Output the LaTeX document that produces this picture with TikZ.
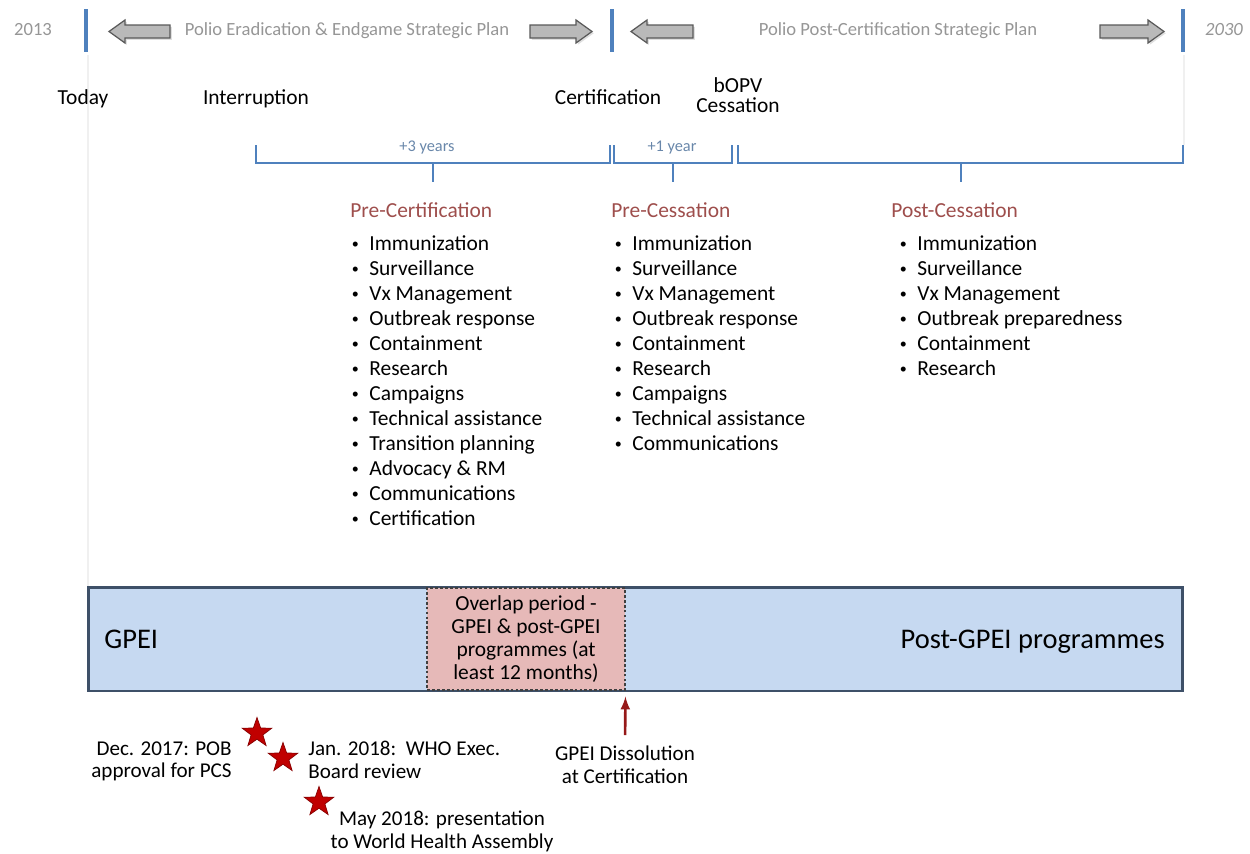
\documentclass[tikz,border=0pt]{standalone}
\usepackage{fontspec}
\setmainfont{Carlito}
\usetikzlibrary{positioning,shapes,shadows,arrows}

\definecolor{barblue}{RGB}{79,129,189}
\definecolor{plangray}{RGB}{150,150,150}
\definecolor{yeargray}{RGB}{110,110,110}
\definecolor{spanblue}{RGB}{105,135,170}
\definecolor{headred}{RGB}{158,78,76}
\definecolor{gpeiblue}{RGB}{198,217,241}
\definecolor{gpeiedge}{RGB}{62,80,104}
\definecolor{overlappink}{RGB}{230,185,184}
\definecolor{starred}{RGB}{192,0,0}
\definecolor{arrowred}{RGB}{150,25,25}

\tikzset{
  every node/.style={inner sep=0, font=\fontsize{12.2}{14.2}\selectfont},
  guideline/.style={line width=0.6, color=gray!12},
  phasebar/.style={line width=2.8, color=barblue},
  planarrow/.style={line width=0.7, draw=gray!70!black, fill=gray!55, drop shadow={opacity=0.25, shadow xshift=1pt, shadow yshift=-1pt}},
  bracket/.style={line width=1.6, color=barblue},
  plantext/.style={anchor=base, text=plangray, font=\fontsize{10.6}{12}\selectfont},
  spantext/.style={anchor=base, text=spanblue, font=\fontsize{9.3}{11}\selectfont},
  milestone/.style={anchor=base},
  listhead/.style={anchor=base west, text=headred},
  listitem/.style={anchor=base west, execute at begin node={\llap{\makebox[15.8pt]{\raisebox{0.6pt}{\fontsize{8}{8}\selectfont\textbullet}}}}},
  gpeibox/.style={draw=gpeiedge, line width=1.7, fill=gpeiblue, minimum width=21.9cm, minimum height=2.08cm},
  overlapbox/.style={draw=black!75, line width=0.6, dash pattern=on 1.6pt off 1.2pt, fill=overlappink, minimum width=3.96cm, minimum height=2.04cm, align=center, font=\fontsize{12.2}{13}\selectfont},
  note/.style={font=\fontsize{12}{13}\selectfont},
  redstar/.style={star, star points=5, star point ratio=2.5, fill=starred, draw=starred!70!black, line width=0.4, minimum size=0.62cm}
}

\begin{document}
\begin{tikzpicture}[x=0.02cm, y=-0.02cm]
\useasboundingbox (0,0) rectangle (1250,853);

% faint guides
\draw[guideline](88,55) -- (88,587);
\draw[guideline](1184,55) -- (1184,145);

% plan limits
\draw[phasebar](86,9) -- (86,52);
\draw[phasebar](612,9) -- (612,52);
\draw[phasebar](1183,9) -- (1183,52);

% block arrows of the two plans
\foreach \tail/\tip in {170/109, 530/592, 693/631, 1100/1164}{
  \pgfmathsetmacro\hb{\tip+16*sign(\tail-\tip)}
  \draw[planarrow](\tail,25) -- (\hb,25) -- (\hb,20) -- (\tip,31.5) -- (\hb,43) -- (\hb,38) -- (\tail,38) -- cycle;
}

\node[plantext] (y2013) at (33,35) {2013};
\node[plantext, font=\fontsize{10.6}{12}\selectfont\itshape] (y2030) at (1224,35) {2030};
\node[plantext] (plan1) at (347,35) {Polio Eradication \& Endgame Strategic Plan};
\node[plantext] (plan2) at (898,35) {Polio Post-Certification Strategic Plan};

% milestones
\node[milestone] (today) at (83,104) {Today};
\node[milestone] (interrupt) at (256,104) {Interruption};
\node[milestone] (certif) at (608,104) {Certification};
\node[anchor=north, align=center, font=\fontsize{12.2}{11.8}\selectfont] (cessation) at (738,77) {bOPV\\Cessation};

% brackets
\draw[bracket](256,145) -- (256,163) -- (610,163) -- (610,145);
\draw[bracket](433,163) -- (433,182);
\draw[bracket](614,145) -- (614,163) -- (732,163) -- (732,145);
\draw[bracket](673,163) -- (673,182);
\draw[bracket](738,145) -- (738,163) -- (1183,163) -- (1183,145);
\draw[bracket](961,163) -- (961,182);
\node[spantext] (span3) at (427,151) {+3 years};
\node[spantext] (span1) at (672,151) {+1 year};

% activity lists
\node[listhead] (precert) at (350,217) {Pre-Certification};
\foreach \txt [count=\i] in {Immunization,Surveillance,Vx Management,Outbreak response,Containment,Research,Campaigns,Technical assistance,Transition planning,Advocacy \& RM,Communications,Certification}
  \node[listitem] (precert-\i) at (369,225+25*\i) {\txt};

\node[listhead] (precess) at (611,217) {Pre-Cessation};
\foreach \txt [count=\i] in {Immunization,Surveillance,Vx Management,Outbreak response,Containment,Research,Campaigns,Technical assistance,Communications}
  \node[listitem] (precess-\i) at (632,225+25*\i) {\txt};

\node[listhead] (postcess) at (891,217) {Post-Cessation};
\foreach \txt [count=\i] in {Immunization,Surveillance,Vx Management,Outbreak preparedness,Containment,Research}
  \node[listitem] (postcess-\i) at (917,225+25*\i) {\txt};

% programmes
\node[gpeibox] (gpei) at (635.5,639) {};
\node[overlapbox] (overlap) at (526,639) {Overlap period -\\GPEI \& post-GPEI\\programmes (at\\least 12 months)};
\node[anchor=base west, font=\fontsize{16.2}{18}\selectfont] (gpeilabel) at (104,648) {GPEI};
\node[anchor=base east, font=\fontsize{16.2}{18}\selectfont] (postlabel) at (1165,648) {Post-GPEI programmes};

% dissolution
\node[note, anchor=north, align=center, font=\fontsize{12}{13.6}\selectfont] (dissol) at (625,745) {GPEI Dissolution\\at Certification};
\draw[-latex, line width=1.5, color=arrowred, shorten <=0.2cm, shorten >=0.12cm](dissol.north) -- (overlap.south east);

% milestones of the plan approval
\node[redstar] (star1) at (257,733) {};
\node[redstar] (star2) at (283,758) {};
\node[redstar] (star3) at (319,802) {};
\node[note, anchor=north east, align=right] (pob) at (232,741) {Dec. 2017: POB\\approval for PCS};
\node[note, anchor=north west, align=left] (board) at (308,741) {Jan. 2018:\ \ WHO Exec.\\Board review};
\node[note, anchor=north, align=center] (wha) at (442,811) {May 2018: presentation\\to World Health Assembly};
\end{tikzpicture}
\end{document}
